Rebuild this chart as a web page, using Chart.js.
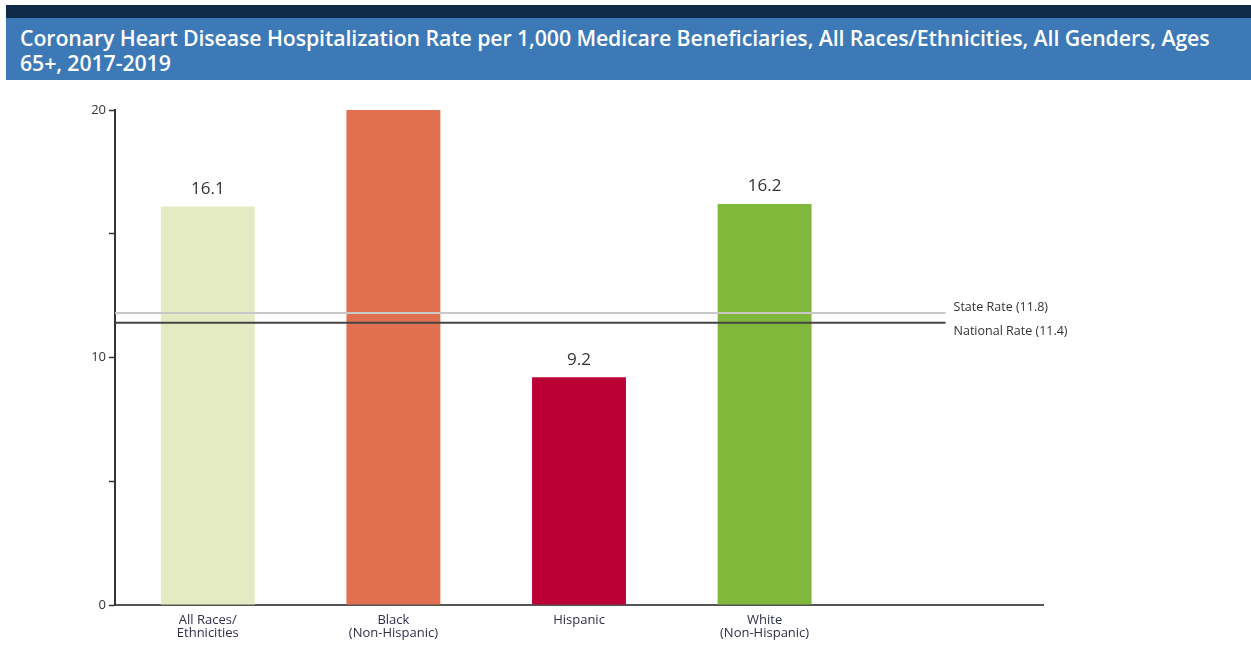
<!DOCTYPE html>
<html>
<head>
<meta charset="utf-8">
<script src="https://cdn.jsdelivr.net/npm/chart.js@4.4.0/dist/chart.umd.min.js"></script>
<style>
  body { margin: 0; background: #fff; width: 1251px; height: 645px; overflow: hidden; position: relative; }
  #topband { position: absolute; left: 6px; top: 5px; width: 1245px; height: 13px; background: #0f2b47; }
  #header { position: absolute; left: 6px; top: 18px; width: 1245px; height: 62px; background: #3c79b6; }
  #header div { position: absolute; left: 14px; top: 7px; width: 1230px; color: #fff; white-space: nowrap;
    font-family: "Open Sans", sans-serif; font-weight: 600; font-size: 21.3px; line-height: 25px; letter-spacing: -0.1px; }
  #wrap { position: absolute; left: 0; top: 80px; width: 1251px; height: 565px; }
</style>
</head>
<body>
<div id="topband"></div>
<div id="header"><div>Coronary Heart Disease Hospitalization Rate per 1,000 Medicare Beneficiaries, All Races/Ethnicities, All Genders, Ages<br>65+, 2017-2019</div></div>
<div id="wrap"><canvas id="chart"></canvas></div>
<script>
// Chart data
var categories = [['All Races/', 'Ethnicities'], ['Black', '(Non-Hispanic)'], 'Hispanic', ['White', '(Non-Hispanic)'], ''];
var rates = [16.1, 20.4, 9.2, 16.2, null];
var barColors = ['#e4ebc3', '#e0704f', '#bb0036', '#7fb83b', '#ffffff'];
var yTicks = [0, 10, 20];
var stateRate = 11.8;
var nationalRate = 11.4;

// reference lines with labels on the right
var refLines = {
    id: 'refLines',
    afterDatasetsDraw: function(chart) {
        var c = chart.ctx, y = chart.scales.y, area = chart.chartArea;
        var xEnd = area.left + (area.right - area.left) * 0.895;
        var ys = y.getPixelForValue(stateRate);
        var yn = y.getPixelForValue(nationalRate);
        c.save();
        c.strokeStyle = '#c8c8c8';
        c.lineWidth = 2;
        c.beginPath(); c.moveTo(area.left, ys); c.lineTo(xEnd, ys); c.stroke();
        c.strokeStyle = '#444';
        c.lineWidth = 2;
        c.beginPath(); c.moveTo(area.left, yn); c.lineTo(xEnd, yn); c.stroke();
        c.fillStyle = '#333';
        c.font = '12.5px "Open Sans", sans-serif';
        c.textAlign = 'left';
        c.textBaseline = 'middle';
        c.fillText('State Rate (' + stateRate + ')', xEnd + 8, ys - 6);
        c.fillText('National Rate (' + nationalRate + ')', xEnd + 8, yn + 9);
        c.restore();
    }
};

// value labels above bars
var valueLabels = {
    id: 'valueLabels',
    afterDatasetsDraw: function(chart) {
        var c = chart.ctx, meta = chart.getDatasetMeta(0), max = chart.scales.y.max;
        c.save();
        c.fillStyle = '#333';
        c.font = '17px "Open Sans", sans-serif';
        c.textAlign = 'center';
        c.textBaseline = 'bottom';
        meta.data.forEach(function(bar, i) {
            var v = rates[i];
            if (v == null || v > max) return;
            c.fillText(v.toFixed(1), bar.x, bar.y - 9);
        });
        c.restore();
    }
};

var ctx = document.getElementById('chart').getContext('2d');
new Chart(ctx, {
    type: 'bar',
    data: {
        labels: categories,
        datasets: [{
            data: rates,
            backgroundColor: barColors,
            barPercentage: 0.506,
            categoryPercentage: 1
        }]
    },
    options: {
        responsive: true,
        maintainAspectRatio: false,
        animation: false,
        layout: { padding: { top: 30, right: 208, left: 0, bottom: 0 } },
        plugins: { legend: { display: false }, tooltip: { enabled: false } },
        scales: {
            x: {
                grid: { display: false },
                border: { display: true, color: '#555', width: 2 },
                ticks: { color: '#2f2f4a', font: { family: 'Open Sans', size: 13, lineHeight: 1.0 }, padding: 1, maxRotation: 0 },
                afterFit: function(s) { s.height = 40; }
            },
            y: {
                min: 0,
                max: 20,
                afterFit: function(s) { s.width = 115; },
                border: { display: true, color: '#333', width: 2 },
                grid: { drawOnChartArea: false, tickLength: 6, tickColor: '#333', tickWidth: 1.5 },
                ticks: {
                    stepSize: 5,
                    color: '#333',
                    font: { family: 'Open Sans', size: 13 },
                    padding: 3,
                    callback: function(v) { return yTicks.indexOf(v) >= 0 ? v : ''; }
                }
            }
        }
    },
    plugins: [refLines, valueLabels]
});
</script>
</body>
</html>
